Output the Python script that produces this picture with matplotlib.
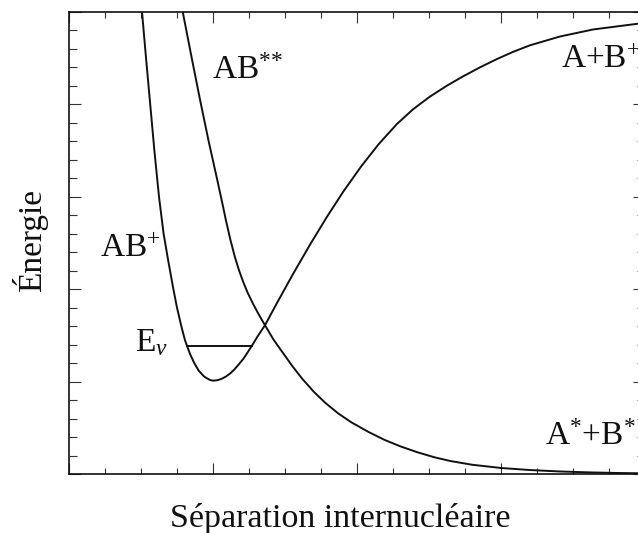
import matplotlib
matplotlib.use("Agg")
import matplotlib.pyplot as plt
from matplotlib.ticker import MultipleLocator

# AB+ bound state, dissociating to A + B+
ab_plus_x = [0.507, 0.535, 0.564, 0.593, 0.625, 0.657, 0.690, 0.725, 0.750, 0.780,
             0.805, 0.840, 0.870, 0.900, 0.935, 0.950, 0.965, 0.980, 1.0, 1.03,
             1.06, 1.09, 1.12, 1.15, 1.18, 1.21, 1.24, 1.271, 1.31, 1.361,
             1.444, 1.556, 1.674, 1.792, 1.903, 2.03, 2.15, 2.278, 2.389, 2.507,
             2.625, 2.736, 2.854, 2.972, 3.083, 3.20, 3.41, 3.64, 3.95, 4.0]
ab_plus_y = [5.0, 4.5, 4.0, 3.5, 3.0, 2.6, 2.3, 2.0, 1.8, 1.6,
             1.45, 1.3, 1.2, 1.12, 1.06, 1.043, 1.03, 1.017, 1.01, 1.015,
             1.03, 1.055, 1.089, 1.134, 1.188, 1.245, 1.315, 1.39, 1.49, 1.61,
             1.85, 2.165, 2.483, 2.785, 3.052, 3.331, 3.569, 3.789, 3.947, 4.085,
             4.203, 4.303, 4.401, 4.491, 4.568, 4.639, 4.735, 4.811, 4.873, 4.881]

# AB** repulsive state, going to A* + B*
ab_ss_x = [0.79, 0.85, 0.91, 0.97, 1.03, 1.06, 1.09, 1.12, 1.15, 1.18,
           1.21, 1.24, 1.28, 1.32, 1.361, 1.42, 1.486, 1.55, 1.62, 1.70,
           1.78, 1.87, 1.96, 2.08, 2.19, 2.30, 2.42, 2.54, 2.65, 2.80,
           3.0, 3.2, 3.4, 3.6, 3.8, 4.0]
ab_ss_y = [5.0, 4.52, 4.05, 3.60, 3.18, 2.966, 2.744, 2.540, 2.360, 2.207,
           2.078, 1.964, 1.836, 1.720, 1.61, 1.455, 1.31, 1.17, 1.03, 0.89,
           0.77, 0.655, 0.56, 0.455, 0.37, 0.30, 0.235, 0.18, 0.14, 0.10,
           0.065, 0.043, 0.028, 0.018, 0.011, 0.007]

# vibrational level E_v
ev_x = [0.819, 1.271]
ev_y = [1.39, 1.39]

# state labels: text, x, y (data units, left / baseline)
labels = [
    (r"AB$^{{*}{*}}$", 0.993, 4.28),
    (r"AB$^{+}$", 0.215, 2.35),
    (r"A+B$^{+}$", 3.417, 4.39),
    (r"A$^{*}$+B$^{*}$", 3.306, 0.31),
    (r"E$_{\nu}$", 0.458, 1.33),
]

plt.rcParams["font.family"] = ["Liberation Serif", "DejaVu Serif"]
plt.rcParams["mathtext.fontset"] = "custom"
plt.rcParams["mathtext.rm"] = "Liberation Serif"
plt.rcParams["mathtext.it"] = "Liberation Serif:italic"

fig = plt.figure(figsize=(6.38, 5.33), dpi=100)
W, H = 638, 533
# right spine sits just outside the picture, as in the original crop
ax = fig.add_axes([69 / W, 1 - 474 / H, 576 / W, 462 / H])

ink = "#111111"
ax.plot(ab_plus_x, ab_plus_y, color=ink, lw=1.4, solid_joinstyle="round")
ax.plot(ab_ss_x, ab_ss_y, color=ink, lw=1.4, solid_joinstyle="round")
ax.plot(ev_x, ev_y, color=ink, lw=1.4)

for txt, x, y in labels:
    ax.text(x, y, txt, fontsize=24, color=ink, ha="left", va="baseline")

ax.set_xlim(0, 4)
ax.set_ylim(0, 5)
ax.set_xticks([0, 1, 2, 3, 4])
ax.set_yticks([0, 1, 2, 3, 4, 5])
ax.xaxis.set_minor_locator(MultipleLocator(0.25))
ax.yaxis.set_minor_locator(MultipleLocator(0.2))
ax.tick_params(which="both", direction="in", top=True, right=True,
               labelbottom=False, labelleft=False, color="#333333", width=0.8)
ax.tick_params(axis="x", which="major", length=8)
ax.tick_params(axis="x", which="minor", length=4)
ax.tick_params(axis="y", which="major", length=8.5)
ax.tick_params(axis="y", which="minor", length=5.5)
for s in ax.spines.values():
    s.set_linewidth(1.2)
    s.set_color(ink)

fig.text(340 / W, 1 - 527 / H, "Séparation internucléaire", fontsize=24.5,
         color=ink, ha="center", va="baseline")
fig.text(30.5 / W, 1 - 240 / H, "Énergie", fontsize=24, color=ink,
         rotation=90, ha="center", va="center")

fig.savefig("out.png", dpi=100)
